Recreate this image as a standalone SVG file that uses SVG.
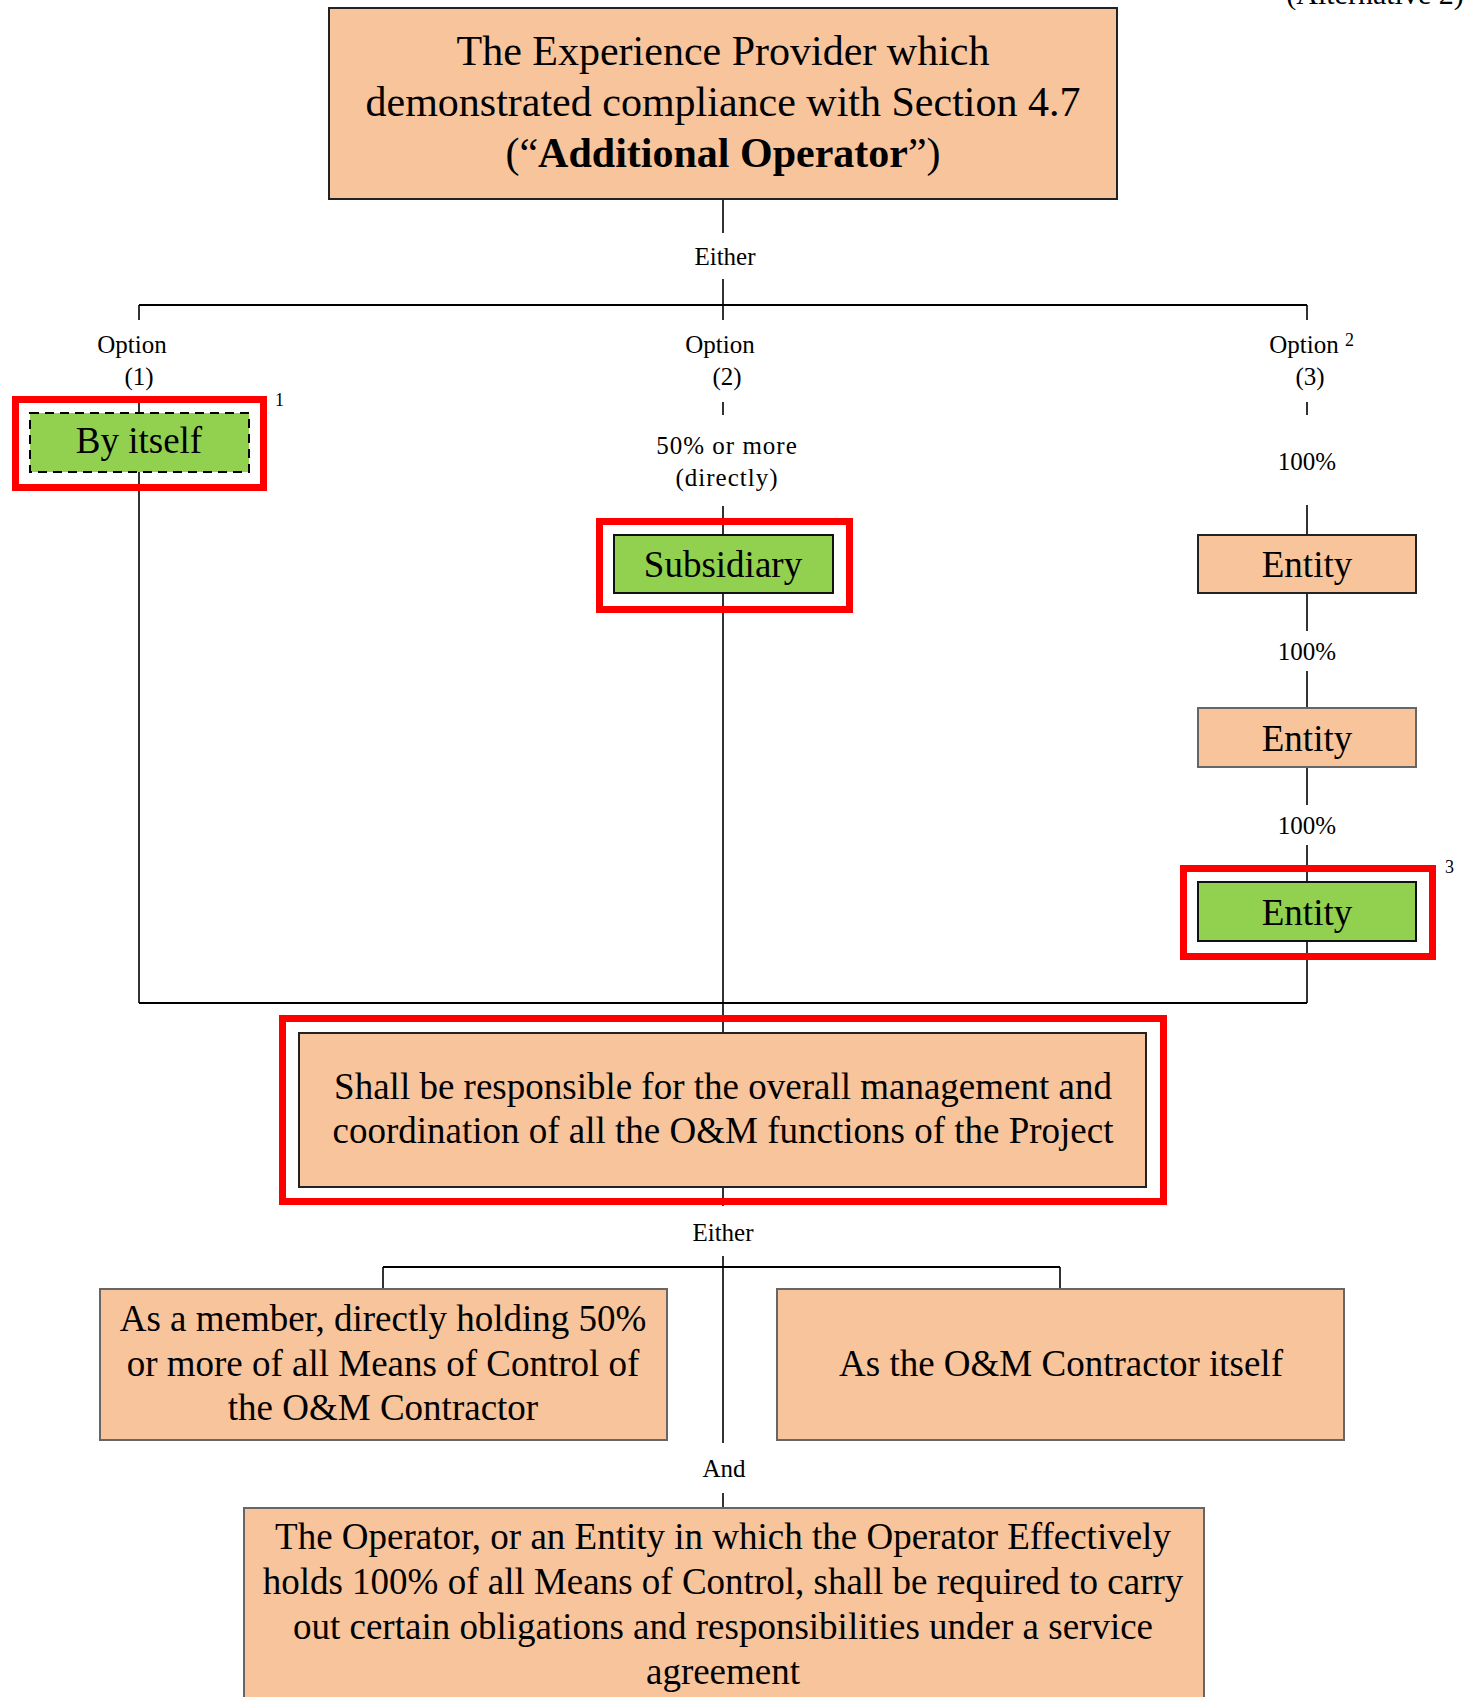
<svg xmlns="http://www.w3.org/2000/svg" width="1472" height="1697" viewBox="0 0 1472 1697">
<style>
text{font-family:"Liberation Serif","Times New Roman",serif;fill:#000}
.big{font-size:42px;text-anchor:middle}
.box{font-size:37px;text-anchor:middle}
.lbl{font-size:25px;text-anchor:middle}
.sup{font-size:18px}
.peach{fill:#F8C49B;stroke:#222;stroke-width:2}
.peachg{fill:#F8C49B;stroke:#666;stroke-width:2}
.green{fill:#92D050;stroke:#111;stroke-width:2}
.red{fill:none;stroke:#FF0000;stroke-width:7}
.ln{stroke:#000;stroke-width:1.6;fill:none}
.hl{stroke:#000;stroke-width:2.2;fill:none}
</style>
<rect width="1472" height="1697" fill="#fff"/>
<text x="1375" y="4" font-size="30px" text-anchor="middle">(Alternative 2)</text>

<g id="connectors">
<path class="ln" d="M723 199V233M723 279V320M139 305V320M1307 305V320"/>
<path class="hl" d="M139 305H1307"/>
<path class="ln" d="M139 401V413M139 472V1003"/>
<path class="ln" d="M723 402V415M723 506V535M723 593V1032"/>
<path class="ln" d="M1307 402V415M1307 505V535M1307 593V631M1307 671V708M1307 767V805M1307 845V882M1307 941V1003"/>
<path class="hl" d="M139 1003H1307"/>
<path class="ln" d="M723 1187V1206M723 1256V1443"/>
<path class="hl" d="M383 1267H1060"/>
<path class="ln" d="M383 1267V1289M1060 1267V1289M723 1493V1508"/>
</g>

<g id="labels">
<text class="lbl" x="725" y="265">Either</text>
<text class="lbl" x="132" y="353">Option</text>
<text class="lbl" x="139" y="385">(1)</text>
<text class="lbl" x="720" y="353">Option</text>
<text class="lbl" x="727" y="385">(2)</text>
<text class="lbl" x="1304" y="353">Option</text>
<text class="sup" x="1345" y="346">2</text>
<text class="lbl" x="1310" y="385">(3)</text>
<text class="lbl" x="727" y="454" letter-spacing="1">50%  or more</text>
<text class="lbl" x="727" y="486" letter-spacing="1">(directly)</text>
<text class="lbl" x="1307" y="470">100%</text>
<text class="lbl" x="1307" y="660">100%</text>
<text class="lbl" x="1307" y="834">100%</text>
<text class="lbl" x="723" y="1241">Either</text>
<text class="lbl" x="724" y="1477">And</text>
</g>

<g id="node-top">
<rect class="peach" x="329" y="8" width="788" height="191"/>
<text class="big" x="723" y="65">The Experience Provider which</text>
<text class="big" x="723" y="116">demonstrated compliance with Section 4.7</text>
<text class="big" x="723" y="167">(“<tspan font-weight="bold">Additional Operator</tspan>”)</text>
</g>

<g id="node-byitself">
<rect class="red" x="15.5" y="399.5" width="248" height="88"/>
<rect x="30" y="413" width="219" height="59" fill="#92D050" stroke="#000" stroke-width="2" stroke-dasharray="9,6"/>
<text class="box" x="139" y="453">By itself</text>
<text class="sup" x="275" y="406">1</text>
</g>

<g id="node-subsidiary">
<rect class="red" x="599.5" y="521.5" width="250" height="88"/>
<rect class="green" x="614" y="535" width="219" height="58"/>
<text class="box" x="723" y="577">Subsidiary</text>
</g>

<g id="node-entity1">
<rect class="peach" x="1198" y="535" width="218" height="58"/>
<text class="box" x="1307" y="577">Entity</text>
</g>

<g id="node-entity2">
<rect class="peachg" x="1198" y="708" width="218" height="59"/>
<text class="box" x="1307" y="751">Entity</text>
</g>

<g id="node-entity3">
<rect class="red" x="1183.5" y="868.5" width="249" height="88"/>
<rect class="green" x="1198" y="882" width="218" height="59"/>
<text class="box" x="1307" y="925">Entity</text>
<text class="sup" x="1445" y="873">3</text>
</g>

<g id="node-shall">
<rect class="red" x="282.5" y="1018.5" width="881" height="183"/>
<rect class="peach" x="299" y="1033" width="847" height="154"/>
<text class="box" x="723" y="1099">Shall be responsible for the overall management and</text>
<text class="box" x="723" y="1143">coordination of all the O&amp;M functions of the Project</text>
</g>

<g id="node-member">
<rect class="peachg" x="100" y="1289" width="567" height="151"/>
<text class="box" x="383" y="1331">As a member, directly holding 50%</text>
<text class="box" x="383" y="1376">or more of all Means of Control of</text>
<text class="box" x="383" y="1420">the O&amp;M Contractor</text>
</g>

<g id="node-contractor">
<rect class="peachg" x="777" y="1289" width="567" height="151"/>
<text class="box" x="1061" y="1376">As the O&amp;M Contractor itself</text>
</g>

<g id="node-operator">
<rect class="peachg" x="244" y="1508" width="960" height="200"/>
<text class="box" x="723" y="1549">The Operator, or an Entity in which the Operator Effectively</text>
<text class="box" x="723" y="1594">holds 100% of all Means of Control, shall be required to carry</text>
<text class="box" x="723" y="1639">out certain obligations and responsibilities under a service</text>
<text class="box" x="723" y="1684">agreement</text>
</g>
</svg>
